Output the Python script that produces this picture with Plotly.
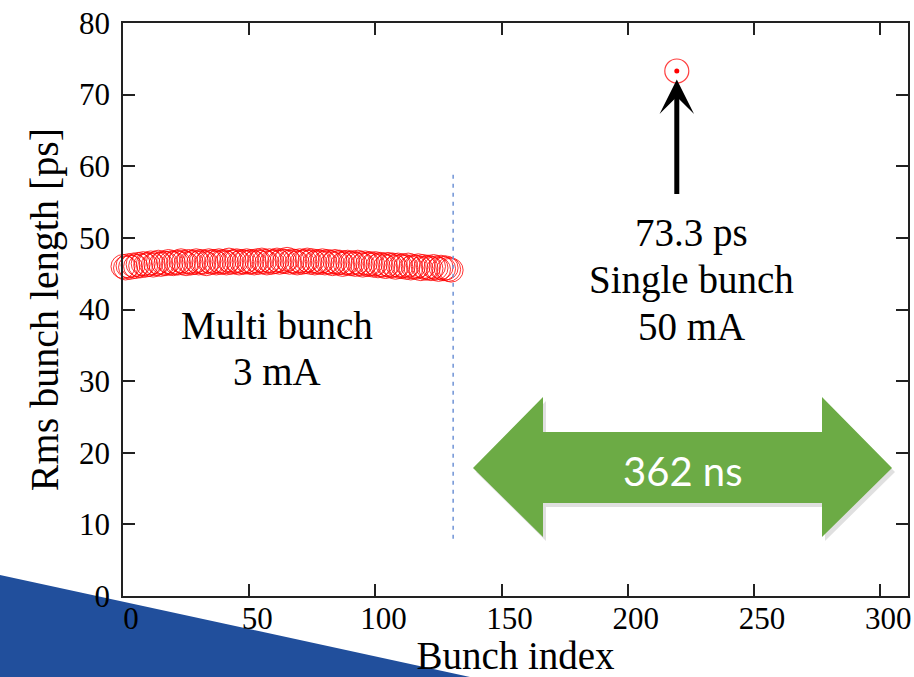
import plotly.graph_objects as go

# ---------------- data ----------------
multi_idx = list(range(0, 131))
multi_len = [
    46.0, 45.8, 46.1, 45.9, 46.2, 46.0, 46.3, 46.1, 46.4, 46.2,
    46.3, 46.5, 46.2, 46.4, 46.6, 46.3, 46.5, 46.4, 46.7, 46.5,
    46.4, 46.6, 46.5, 46.8, 46.6, 46.4, 46.7, 46.5, 46.6, 46.8,
    46.5, 46.7, 46.6, 46.4, 46.8, 46.6, 46.7, 46.5, 46.8, 46.6,
    46.7, 46.5, 46.9, 46.6, 46.7, 46.8, 46.5, 46.7, 46.6, 46.8,
    46.6, 46.7, 46.5, 46.8, 46.6, 46.9, 46.7, 46.5, 46.8, 46.6,
    46.7, 46.9, 46.6, 46.8, 46.7, 47.0, 46.6, 46.8, 46.7, 46.5,
    46.8, 46.6, 46.7, 46.9, 46.6, 46.8, 46.5, 46.7, 46.6, 46.8,
    46.5, 46.7, 46.6, 46.4, 46.7, 46.5, 46.6, 46.3, 46.5, 46.6,
    46.4, 46.5, 46.3, 46.6, 46.4, 46.2, 46.5, 46.3, 46.4, 46.2,
    46.4, 46.1, 46.3, 46.2, 46.0, 46.3, 46.1, 46.2, 45.9, 46.2,
    46.0, 46.1, 45.9, 46.2, 45.8, 46.0, 45.9, 46.1, 45.7, 46.0,
    45.8, 45.9, 45.7, 46.0, 45.8, 45.6, 45.9, 45.7, 45.8, 45.6,
    45.5,
]
single_idx = [219.4]
single_len = [73.3]

divider_x = 130.8
divider_y = [8, 59]
arrow_tail_y = 55.9
arrow_tip_y = 72.1

x_ticks = [0, 50, 100, 150, 200, 250, 300]
y_ticks = [0, 10, 20, 30, 40, 50, 60, 70, 80]

W, H = 914, 677
L, R, T, B = 123, 6, 23, 81
PW, PH = W - L - R, H - T - B


def px(p):
    return (p - L) / PW


def py(p):
    return (H - B - p) / PH


SERIF = "Liberation Serif, Times New Roman, serif"

fig = go.Figure()

fig.add_trace(go.Scatter(
    x=multi_idx, y=multi_len, mode="markers",
    marker=dict(symbol="circle-open", size=24, color="rgba(255,0,0,0.8)",
                line=dict(width=1, color="rgba(255,0,0,0.8)")),
    cliponaxis=False, showlegend=False, hoverinfo="x+y",
))
fig.add_trace(go.Scatter(
    x=single_idx, y=single_len, mode="markers",
    marker=dict(symbol="circle-open", size=24, color="rgba(255,0,0,0.75)",
                line=dict(width=1.2, color="rgba(255,0,0,0.75)")),
    cliponaxis=False, showlegend=False, hoverinfo="x+y",
))
fig.add_trace(go.Scatter(
    x=single_idx, y=single_len, mode="markers",
    marker=dict(symbol="circle", size=5, color="red"),
    cliponaxis=False, showlegend=False, hoverinfo="skip",
))

shapes = []
# dashed divider
shapes.append(dict(type="line", xref="x", yref="y",
                   x0=divider_x, x1=divider_x, y0=divider_y[0], y1=divider_y[1],
                   line=dict(color="#6f93d6", width=1.5, dash="4px,5px")))
# green double arrow (decoration)
pts = [(473, 468), (543, 397), (543, 432), (822, 432), (822, 397),
       (892, 468), (822, 537), (822, 503), (543, 503), (543, 537)]
shadow = "M " + " L ".join(f"{px(a + 3)},{py(b + 4)}" for a, b in pts) + " Z"
path = "M " + " L ".join(f"{px(a)},{py(b)}" for a, b in pts) + " Z"
shapes.append(dict(type="path", xref="paper", yref="paper", path=shadow,
                   fillcolor="rgba(0,0,0,0.12)", line=dict(width=0)))
shapes.append(dict(type="path", xref="paper", yref="paper", path=path,
                   fillcolor="#6cab45", line=dict(width=0)))
# blue slide decoration bottom-left
blue = f"M {px(0)},{py(575)} L {px(470)},{py(677)} L {px(0)},{py(677)} Z"
shapes.append(dict(type="path", xref="paper", yref="paper", path=blue,
                   fillcolor="#214f9c", line=dict(width=0), layer="below"))

annotations = []
# black arrow to single bunch point
annotations.append(dict(x=single_idx[0], y=arrow_tip_y, ax=single_idx[0], ay=arrow_tail_y,
                        xref="x", yref="y", axref="x", ayref="y", text="",
                        showarrow=True, arrowhead=3, arrowsize=1.15, arrowwidth=5,
                        arrowcolor="black", standoff=0))


def dx(p):
    return (p - L) / PW * 311


def dy(p):
    return (H - B - p) / PH * 80


def txt(x, y, s, size=39, color="black", family=SERIF):
    annotations.append(dict(x=x, y=y, xref="x", yref="y", text=s, showarrow=False,
                            xanchor="center", yanchor="middle",
                            font=dict(family=family, size=size, color=color)))


txt(dx(277), dy(325), "Multi bunch")
txt(dx(277), dy(371), "3 mA")
txt(dx(691), dy(233), "73.3 ps")
txt(dx(691), dy(280), "Single bunch")
txt(dx(691), dy(326), "50 mA")
txt(dx(682), dy(471), "362 ns", size=40, color="white", family="Lato, Open Sans, sans-serif")

fig.update_layout(
    width=W, height=H,
    margin=dict(l=L, r=R, t=T, b=B, autoexpand=False),
    paper_bgcolor="white", plot_bgcolor="rgba(0,0,0,0)",
    shapes=shapes, annotations=annotations,
    font=dict(family=SERIF, color="black"),
    xaxis=dict(range=[0, 311], tickvals=x_ticks, ticktext=[str(v) for v in x_ticks],
               ticks="inside", ticklen=12, tickwidth=1.5, tickcolor="#222",
               showline=True, linewidth=1.5, linecolor="#222", mirror="ticks",
               showgrid=False, zeroline=False,
               tickfont=dict(size=31, family=SERIF, color="black"),
               ticklabelstandoff=-6, ticklabelshift=8,
               title=dict(text="Bunch index", font=dict(size=39, family=SERIF, color="black"),
                          standoff=2),
               automargin=False),
    yaxis=dict(range=[0, 80], tickvals=y_ticks, ticktext=[str(v) for v in y_ticks],
               ticks="inside", ticklen=12, tickwidth=1.5, tickcolor="#222",
               showline=True, linewidth=1.5, linecolor="#222", mirror="ticks",
               showgrid=False, zeroline=False,
               tickfont=dict(size=31, family=SERIF, color="black"),
               ticklabelstandoff=5,
               title=dict(text="Rms bunch length [ps]", font=dict(size=40, family=SERIF, color="black"),
                          standoff=8),
               automargin=False),
)

fig.write_html("out.html")
